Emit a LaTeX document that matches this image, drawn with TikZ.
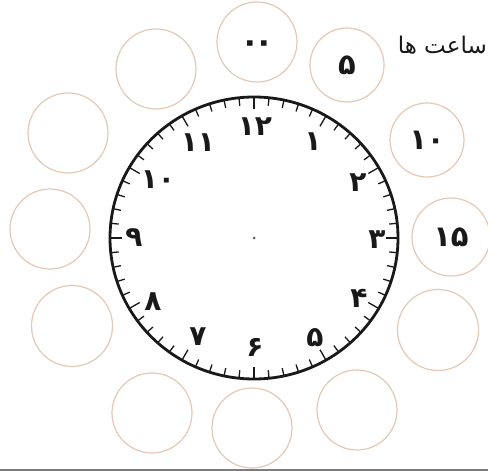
\documentclass[tikz,border=0pt]{standalone}
\usepackage{fontspec}
\newfontfamily\arabicfont[Script=Arabic]{DejaVu Sans}
\TeXXeTstate=1
\definecolor{ring}{RGB}{229,201,180}
\definecolor{rulegray}{RGB}{125,125,125}
\definecolor{ink}{RGB}{25,25,25}
\begin{document}
\begin{tikzpicture}[x=1pt,y=-1pt,
  slot/.style={circle,draw=ring,line width=1.2pt,fill=white,inner sep=0pt,
    text=ink,font=\arabicfont\bfseries\fontsize{29}{29}\selectfont},
  hournum/.style={inner sep=0pt,text=ink,font=\arabicfont\bfseries\fontsize{28}{28}\selectfont},
  tickline/.style={line width=1.3pt,draw=ink},
  rim/.style={line width=2.8pt,draw=ink},
  titletext/.style={inner sep=0pt,text=ink,font=\arabicfont\fontsize{23}{23}\selectfont}]
\clip (0,0) rectangle (488,471);
\fill[white] (0,0) rectangle (488,471);
% bottom rule
\fill[rulegray] (0,468.5) rectangle (488,471);
% title
\node[titletext,anchor=east] (title) at (487,45) {\beginR ساعت ها\endR};
% minute slots
\node[slot,minimum size=80pt] (s0) at (257,42) {};
\node[slot,minimum size=74pt] (s1) at (347,65) {۵};
\node[slot,minimum size=74pt] (s2) at (427,140) {۱۰};
\node[slot,minimum size=78pt] (s3) at (451,237) {۱۵};
\node[slot,minimum size=81pt] (s4) at (438,330) {};
\node[slot,minimum size=80pt] (s5) at (357,410) {};
\node[slot,minimum size=80pt] (s6) at (252,428) {};
\node[slot,minimum size=80pt] (s7) at (152,413) {};
\node[slot,minimum size=81pt] (s8) at (72,326) {};
\node[slot,minimum size=80pt] (s9) at (50,229) {};
\node[slot,minimum size=80pt] (s10) at (68,133) {};
\node[slot,minimum size=80pt] (s11) at (156,69) {};
\node[inner sep=0pt,text=ink,font=\arabicfont\bfseries\fontsize{32}{32}\selectfont] (s0t) at (257,47) {۰\kern-6pt۰};
% clock face
\draw[rim,fill=white] (254,238) ellipse [x radius=144, y radius=141];
\foreach \i in {0,...,59}{
  \pgfmathsetmacro\a{90-6*\i}
  \pgfmathsetmacro\L{ifthenelse(mod(\i,5)==0,12,8)}
  \draw[tickline] ({254+144*cos(\a)},{238-141*sin(\a)}) -- ({254+(144-\L)*cos(\a)},{238-(141-\L)*sin(\a)});
}
\fill[ink!70] (254,238) circle (1.5);
% hour numbers
\node[hournum] (h12) at (255,127) {۱۲};
\node[hournum] (h1) at (313,142) {۱};
\node[hournum] (h2) at (358,183) {۲};
\node[hournum] (h3) at (377,240) {۳};
\node[hournum] (h4) at (359,298) {۴};
\node[hournum] (h5) at (315,338) {۵};
\node[hournum] (h6) at (255,347) {۶};
\node[hournum] (h7) at (198,337) {۷};
\node[hournum] (h8) at (153,302) {۸};
\node[hournum] (h9) at (134,238) {۹};
\node[hournum] (h10) at (158,180) {۱۰};
\node[hournum] (h11) at (198,143) {۱۱};
\end{tikzpicture}
\end{document}
